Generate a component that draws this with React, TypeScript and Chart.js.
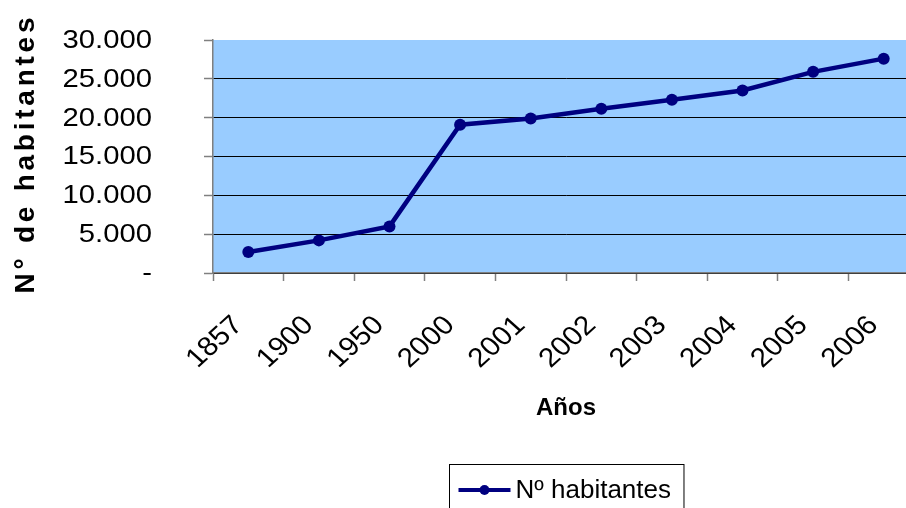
import React, { useEffect, useRef } from 'react';
import { Chart, registerables } from 'chart.js';

Chart.register(...registerables);

// ---- data ----
const years: string[] = ['1857', '1900', '1950', '2000', '2001', '2002', '2003', '2004', '2005', '2006'];
const inhabitants: number[] = [2700, 4200, 6000, 19100, 19900, 21150, 22300, 23500, 25900, 27600];
const seriesLabel = 'Nº habitantes';
const yTitle = 'N° de habitantes';
const xTitle = 'Años';
const yMin = 0;
const yMax = 30000;
const yStep = 5000;

const FONT = '"Liberation Sans", Arial, sans-serif';
const LINE_COLOR = '#000080';
const PLOT_BG = '#99CCFF';
const STRETCH = 1.2;

function formatTick(v: number): string {
  if (v === 0) return '-';
  return String(v).replace(/\B(?=(\d{3})+(?!\d))/g, '.');
}

const customDraw = {
  id: 'customDraw',
  beforeDraw(chart: any) {
    const { ctx, chartArea: a } = chart;
    ctx.save();
    ctx.fillStyle = PLOT_BG;
    ctx.fillRect(a.left, a.top, a.right - a.left, a.bottom - a.top);
    ctx.restore();
  },
  afterDraw(chart: any) {
    const { ctx, chartArea: a } = chart;
    const ys = chart.scales.y;
    const xs = chart.scales.x;

    // y tick labels
    ctx.save();
    ctx.font = `25px ${FONT}`;
    ctx.fillStyle = '#000';
    ctx.textAlign = 'right';
    ctx.textBaseline = 'middle';
    ys.ticks.forEach((t: any) => {
      const py = ys.getPixelForValue(t.value);
      ctx.save();
      ctx.translate(152, py + 1);
      ctx.scale(1.17, 1);
      ctx.fillText(formatTick(t.value), 0, 0);
      ctx.restore();
    });
    ctx.restore();

    // x tick labels (rotated 45°)
    ctx.save();
    ctx.font = `27px ${FONT}`;
    ctx.fillStyle = '#000';
    ctx.textAlign = 'right';
    ctx.textBaseline = 'middle';
    years.forEach((lab, i) => {
      const px = xs.getPixelForValue(i);
      ctx.save();
      ctx.translate(px - 10, a.bottom + 48);
      ctx.scale(1.1, 1);
      ctx.rotate(-Math.PI / 4);
      ctx.fillText(lab, 0, 0);
      ctx.restore();
    });
    ctx.restore();

    // y title with letter spacing
    ctx.save();
    ctx.font = `bold 28px ${FONT}`;
    ctx.fillStyle = '#000';
    ctx.textAlign = 'left';
    ctx.textBaseline = 'middle';
    const chars = Array.from(yTitle);
    const widths = chars.map((c) => ctx.measureText(c).width);
    const targetLen = 276;
    const natural = widths.reduce((s, w) => s + w, 0);
    const spacing = (targetLen - natural) / (chars.length - 1);
    ctx.translate(26, (a.top + a.bottom) / 2 - 1);
    ctx.rotate(-Math.PI / 2);
    let cx = -targetLen / 2;
    chars.forEach((c, i) => {
      ctx.fillText(c, cx, 0);
      cx += widths[i] + spacing;
    });
    ctx.restore();

    // legend
    const ds = chart.data.datasets[0];
    ctx.save();
    ctx.font = `26px ${FONT}`;
    const tw = ctx.measureText(ds.label).width;
    const padL = 9, lineLen = 52, gap = 5, padR = 13;
    const boxW = padL + lineLen + gap + tw + padR;
    const cxm = (a.left + a.right) / 2;
    const bx = Math.round(cxm - boxW / 2) + 0.5;
    const by = 464.5;
    ctx.strokeStyle = '#000';
    ctx.lineWidth = 1;
    ctx.strokeRect(bx, by, boxW, 70);
    const ly = 490;
    ctx.strokeStyle = ds.borderColor;
    ctx.lineWidth = 4;
    ctx.beginPath();
    ctx.moveTo(bx + padL, ly);
    ctx.lineTo(bx + padL + lineLen, ly);
    ctx.stroke();
    ctx.fillStyle = ds.pointBackgroundColor;
    ctx.beginPath();
    ctx.arc(bx + padL + lineLen / 2, ly, 5, 0, Math.PI * 2);
    ctx.fill();
    ctx.fillStyle = '#000';
    ctx.textAlign = 'left';
    ctx.textBaseline = 'middle';
    ctx.fillText(ds.label, bx + padL + lineLen + gap, ly + 1);
    ctx.restore();
  },
};

export default function App() {
  const ref = useRef<HTMLCanvasElement | null>(null);

  useEffect(() => {
    if (!ref.current) return;
    const chart = new Chart(ref.current, {
      type: 'line',
      data: {
        labels: years,
        datasets: [
          {
            label: seriesLabel,
            data: inhabitants,
            borderColor: LINE_COLOR,
            backgroundColor: LINE_COLOR,
            borderWidth: 4.5,
            pointRadius: 6,
            pointBackgroundColor: LINE_COLOR,
            pointBorderWidth: 0,
            tension: 0,
            fill: false,
          },
        ],
      },
      options: {
        responsive: false,
        animation: false,
        layout: { padding: { left: 0, top: 40, right: 21, bottom: 75 } },
        plugins: {
          legend: { display: false },
          tooltip: { enabled: false },
          title: { display: false },
        },
        scales: {
          x: {
            type: 'category',
            offset: true,
            grid: {
              offset: true,
              drawOnChartArea: false,
              drawTicks: true,
              tickLength: 8,
              tickColor: '#808080',
              tickWidth: 1.5,
            },
            border: { display: true, color: '#7f7f7f', width: 1.5 },
            ticks: { display: false },
            title: {
              display: true,
              text: xTitle,
              color: '#000',
              font: { family: FONT, size: 24, weight: 'bold' },
              padding: { top: 0, bottom: 10 },
            },
            afterFit: (scale: any) => {
              scale.height = 160;
            },
          },
          y: {
            min: yMin,
            max: yMax,
            ticks: { display: false, stepSize: yStep },
            grid: {
              color: (c: any) => (c.tick && c.tick.value === yMax ? 'rgba(0,0,0,0)' : '#000'),
              lineWidth: 1,
              drawTicks: true,
              tickLength: 9,
              tickColor: '#808080',
              tickWidth: 1.5,
            },
            border: { display: true, color: '#7f7f7f', width: 1.5 },
            title: { display: false },
            afterFit: (scale: any) => {
              scale.width = 213;
            },
          },
        },
      },
      plugins: [customDraw],
    });
    return () => chart.destroy();
  }, []);

  return (
    <div
      style={{
        position: 'fixed',
        left: 0,
        top: 0,
        width: 906,
        height: 508,
        overflow: 'hidden',
        background: '#fff',
      }}
    >
      <canvas ref={ref} width={940} height={508} style={{ display: 'block' }} />
    </div>
  );
}
